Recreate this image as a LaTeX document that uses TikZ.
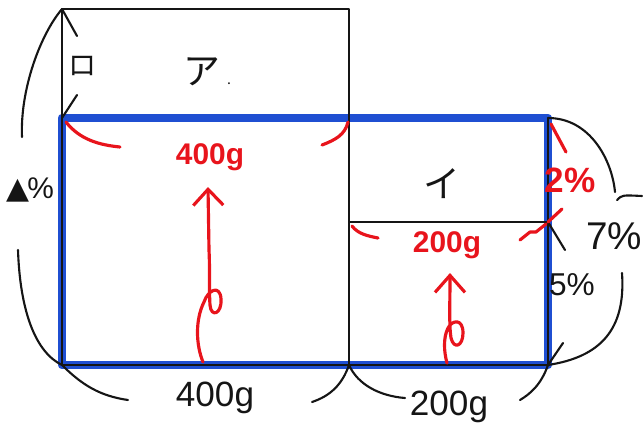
\documentclass[tikz,border=0pt]{standalone}
\usepackage{fontspec}
\setmainfont{Liberation Sans}
\newfontfamily\symfont{DejaVu Sans}
\newfontfamily\jfont{Noto Sans CJK JP}
\usetikzlibrary{arrows.meta, calc}
\definecolor{cblue}{HTML}{1F4FD2}
\definecolor{cred}{HTML}{E8141C}
\definecolor{cink}{HTML}{151515}
\tikzset{
  every picture/.style={line width=1.1pt, line cap=round, line join=round},
  thin/.style={draw=cink, line width=0.9pt},
  rim/.style={draw=cblue, line width=5pt},
  brace/.style={draw=cink, line width=1.2pt},
  redmark/.style={draw=cred, line width=1.8pt},
  redarrow/.style={draw=cred, line width=1.8pt, -{Straight Barb[length=#1, width=6mm, line width=1.8pt]}},
  redarrow/.default=3.2mm,
  lab/.style={text=cink, inner sep=1pt, font=\fontsize{18}{20}\selectfont},
  redlab/.style={text=cred, inner sep=1pt, font=\bfseries\fontsize{17}{19}\selectfont},
  kana/.style={text=cink, inner sep=1pt, font=\jfont\fontsize{21}{23}\selectfont},
}
\begin{document}
\begin{tikzpicture}[x=0.02cm, y=-0.02cm]
  \useasboundingbox (0,0) rectangle (643,427);
  % corners of the area diagram
  \coordinate (tl) at (62,9);
  \coordinate (tm) at (349,9);
  \coordinate (ml) at (62,118);
  \coordinate (mm) at (349,118);
  \coordinate (mr) at (548,118);
  \coordinate (il) at (349,222);
  \coordinate (ir) at (548,222);
  \coordinate (bl) at (62,365);
  \coordinate (bm) at (349,365);
  \coordinate (br) at (548,365);
  % rectangles
  \draw[rim] (ml) rectangle (br);
  \draw[thin] (ml) -- (tl) -- (tm) -- (bm);
  \draw[thin] (ml) -- (bl) -- (br) -- (mr);
  \draw[thin] (il) -- (ir);
  % labels inside
  \node[kana] (a) at (207,72) {ア\kern4pt{\fontsize{8}{8}\selectfont.}};
  \node[kana, font=\jfont\fontsize{16}{18}\selectfont] (ro) at (83,66) {ロ};
  \node[kana] (i) at (442,184) {イ};
  \node[redlab] (w400) at (210,157) {400g};
  \node[redlab] (w200) at (447,245) {200g};
  \node[redlab, font=\bfseries\fontsize{20}{22}\selectfont] (c2) at (570,180) {2\%};
  \node[lab, font=\fontsize{22}{24}\selectfont] (c7) at (614,236) {7\%};
  \node[lab] (c5) at (572,285) {5\%};
  \node[lab, font=\fontsize{17}{19}\selectfont] (cx) at (30,190) {{\symfont ▲}\kern-1pt\%};
  \node[lab, font=\fontsize{20}{22}\selectfont] (b400) at (215,398) {400g};
  \node[lab, font=\fontsize{20}{22}\selectfont] (b200) at (449,407) {200g};
  % black marks and braces
  \coordinate (lu) at (22,137);
  \coordinate (ld) at (18,250);
  \coordinate (b1) at (128,400);
  \coordinate (b2) at (312,402);
  \coordinate (b3) at (405,398);
  \coordinate (b4) at (520,400);
  \coordinate (r1) at (615,192);
  \coordinate (r2) at (622,273);
  \draw[brace] (tl) .. controls (40,35) and (20,90) .. (lu);
  \draw[brace] (tl) -- (77,36);
  \draw[brace] (77,95) -- (ml);
  \draw[brace] (ld) .. controls (20,310) and (35,352) .. (bl);
  \draw[brace] (bl) .. controls (82,385) and (100,396) .. (b1);
  \draw[brace] (bm) .. controls (342,385) and (330,396) .. (b2);
  \draw[brace] (bm) .. controls (358,385) and (380,396) .. (b3);
  \draw[brace] (br) .. controls (541,385) and (530,394) .. (b4);
  \draw[brace] (mr) .. controls (590,118) and (612,160) .. (r1);
  \draw[brace] (br) .. controls (600,357) and (626,330) .. (r2);
  \draw[brace] (br) -- (563,343);
  \draw[brace] (ir) -- (565,250);
  \draw[brace] (617,200) .. controls (622,195) .. (642,196);
  % red marks
  \draw[redmark] (66,122) .. controls (80,140) and (100,145) .. (120,147);
  \draw[redmark] (348,122) .. controls (345,135) and (335,140) .. (322,145);
  \draw[redmark] (352,226) .. controls (358,234) and (368,236) .. (378,238);
  \draw[redmark] (546,224) -- (536,232) -- (530,232) -- (520,240);
  \draw[redmark] (551,124) -- (566,152);
  \draw[redmark] (548,222) -- (562,209);
  % red arrows with zero loop
  \coordinate (s400) at (203,362);
  \coordinate (e400) at (208,187);
  \coordinate (s200) at (447,363);
  \coordinate (e200) at (450,273);
  \draw[redarrow=3.2mm] (s400) .. controls (196,345) and (195,320) .. (204,302)
    .. controls (208,290) and (220,284) .. (221,299)
    .. controls (222,314) and (211,318) .. (210,305)
    .. controls (209,290) and (210,270) .. (209,250) -- (e400);
  \draw[redarrow=3.4mm] (s200) .. controls (444,352) and (443,338) .. (448,328)
    .. controls (452,320) and (463,318) .. (463,333)
    .. controls (463,346) and (454,350) .. (451,338)
    .. controls (449,325) and (450,305) .. (e200);
\end{tikzpicture}
\end{document}
